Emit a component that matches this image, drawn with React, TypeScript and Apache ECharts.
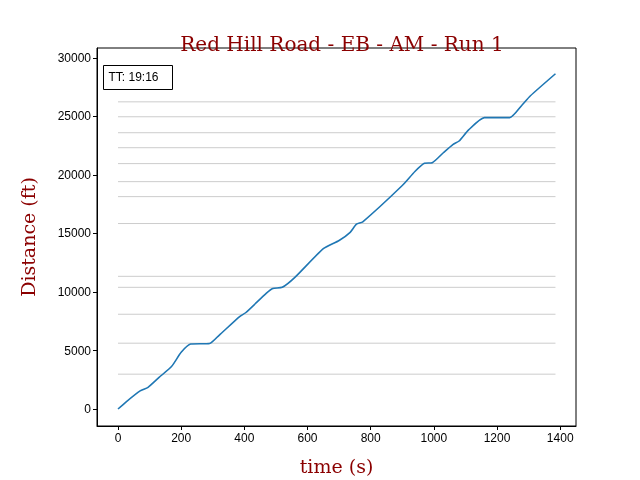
import { useEffect, useRef } from 'react';
import * as echarts from 'echarts';

const times = [0, 25, 70, 95, 130, 170, 200, 230, 290, 320, 385, 405, 470, 490, 520, 560, 650, 700, 735, 755, 775, 900, 940, 970, 995, 1030, 1060, 1080, 1110, 1160, 1240, 1280, 1305, 1385];
const distances = [0, 600, 1550, 1850, 2700, 3650, 4850, 5550, 5600, 6300, 7900, 8250, 9900, 10300, 10400, 11250, 13700, 14400, 15100, 15800, 16000, 19100, 20300, 21000, 21050, 21900, 22600, 22900, 23850, 24900, 24900, 26000, 26750, 28650];
const markerLevels = [26250, 24975, 23610, 22330, 20970, 19430, 18150, 15850, 11340, 10400, 8100, 5625, 2980];
const markerStart = 0;
const markerEnd = 1385;
const xTicks = [0, 200, 400, 600, 800, 1000, 1200, 1400];
const yTicks = [0, 5000, 10000, 15000, 20000, 25000, 30000];
const travelTime = 'TT: 19:16';

export default function App() {
  const elRef = useRef<HTMLDivElement | null>(null);

  useEffect(() => {
    if (!elRef.current) return;
    const chart = echarts.init(elRef.current, undefined, { renderer: 'svg' });
    const axisText = { color: '#000', fontSize: 12, fontFamily: 'Liberation Sans', formatter: (v: number) => String(v) };
    chart.setOption({
      animation: false,
      title: {
        text: 'Red Hill Road - EB - AM - Run 1',
        left: 337,
        textAlign: 'center',
        top: 29,
        textStyle: { color: '#8b0000', fontFamily: 'DejaVu Serif', fontSize: 20, fontWeight: 'normal' },
      },
      grid: { left: 97, right: 64, top: 48, bottom: 53, show: true, borderColor: '#000', borderWidth: 1, backgroundColor: 'transparent' },
      xAxis: {
        type: 'value',
        min: -66.5,
        max: 1450,
        name: 'time (s)',
        nameLocation: 'middle',
        nameGap: 30,
        nameTextStyle: { color: '#8b0000', fontFamily: 'DejaVu Serif', fontSize: 19 },
        axisLine: { show: true, onZero: false, lineStyle: { color: '#000' } },
        axisTick: { show: true, customValues: xTicks, length: 4, lineStyle: { color: '#000' } },
        axisLabel: { ...axisText, customValues: xTicks, margin: 6 },
        splitLine: { show: false },
      },
      yAxis: {
        type: 'value',
        min: -1450,
        max: 30850,
        name: 'Distance (ft)',
        nameLocation: 'middle',
        nameGap: 60,
        nameTextStyle: { color: '#8b0000', fontFamily: 'DejaVu Serif', fontSize: 19 },
        axisLine: { show: true, onZero: false, lineStyle: { color: '#000' } },
        axisTick: { show: true, customValues: yTicks, length: 4, lineStyle: { color: '#000' } },
        axisLabel: { ...axisText, customValues: yTicks, margin: 6 },
        splitLine: { show: false },
      },
      graphic: [
        {
          type: 'group',
          left: 103,
          top: 65,
          children: [
            { type: 'rect', shape: { x: 0, y: 0, width: 69, height: 24 }, style: { fill: '#fff', stroke: '#000', lineWidth: 1 } },
            { type: 'text', x: 5, y: 5, style: { text: travelTime, fontSize: 12, fontFamily: 'Liberation Sans', fill: '#000' } },
          ],
        },
      ],
      series: [
        ...markerLevels.map((lv) => ({
          type: 'line',
          data: [[markerStart, lv], [markerEnd, lv]],
          symbol: 'none',
          silent: true,
          lineStyle: { color: '#cccccc', width: 1 },
        })),
        {
          type: 'line',
          data: times.map((t, i) => [t, distances[i]]),
          symbol: 'none',
          smooth: 0.2,
          lineStyle: { color: '#1f77b4', width: 1.6 },
        },
      ],
    });
    return () => chart.dispose();
  }, []);

  return <div ref={elRef} style={{ position: 'fixed', left: 0, top: 0, width: 640, height: 480 }} />;
}
